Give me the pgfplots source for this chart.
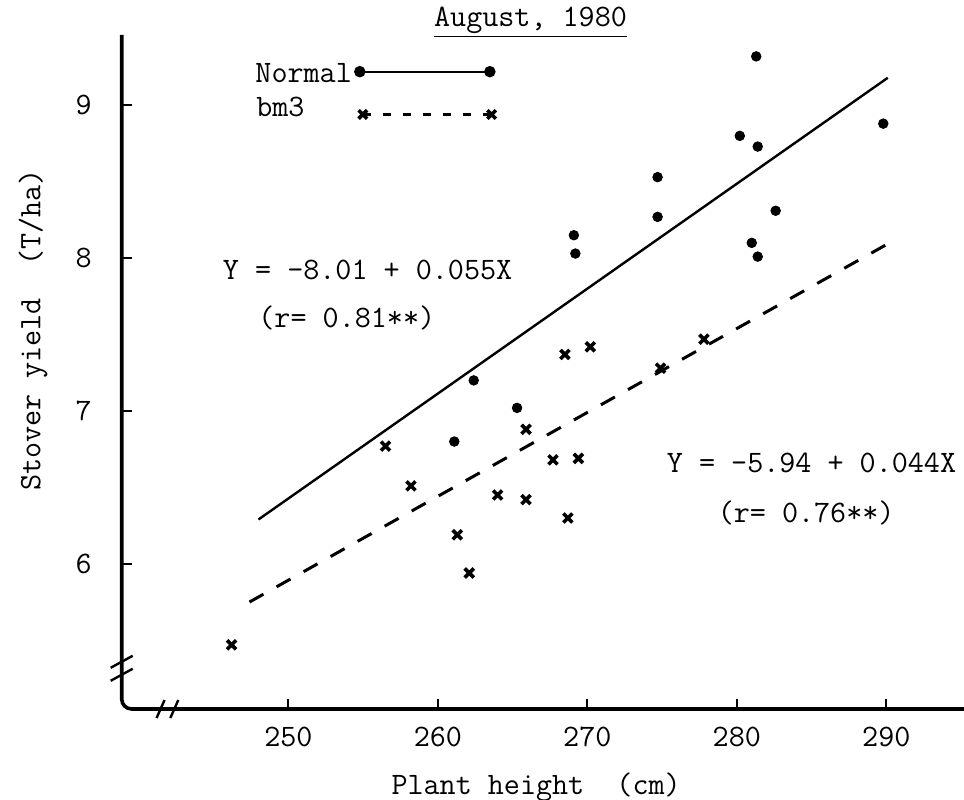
\documentclass[border=0pt]{standalone}
\usepackage{fontspec}
\usepackage{pgfplots}
\pgfplotsset{compat=1.18}
\begin{document}
\ttfamily\fontsize{15.6}{18}\selectfont
\begin{tikzpicture}
\useasboundingbox (0,0) rectangle (482pt,399.5pt);
\begin{axis}[
  at={(60.85pt,45pt)}, anchor=south west,
  scale only axis, width=421.15pt, height=337pt,
  xmin=238.85, xmax=295.2, ymin=5.05, ymax=9.46,
  axis x line*=bottom, axis y line*=left,
  axis line style={draw=none},
  xtick={250,260,270,280,290}, ytick={6,7,8,9},
  tick align=inside, major tick length=5pt,
  tick style={line width=1.1pt, black},
  /pgf/number format/assume math mode=true,
  /pgf/number format/1000 sep={},
  ticklabel style={font=\ttfamily\fontsize{15.6}{18}\selectfont},
  label style={font=\ttfamily\fontsize{15.6}{18}\selectfont},
  xticklabel style={anchor=center, yshift=-14pt},
  yticklabel style={anchor=center, xshift=-19pt},
  xlabel={Plant height\ \ (cm)},
  ylabel={Stover yield\ \ (T/ha)},
  xlabel style={at={(axis description cs:0.492,-0.1157)}, anchor=center},
  ylabel style={at={(axis description cs:-0.1053,0.562)}, anchor=center},
  clip=false,
]
% axis lines with rounded corner
\draw[line width=1.8pt, rounded corners=5pt] (axis cs:238.85,9.46) |- (axis cs:295.2,5.05);
% break marks
\draw[line width=1.2pt] ([shift={(-5.5pt,-3pt)}]axis cs:238.85,5.359) -- ++(11pt,6pt);
\draw[line width=1.2pt] ([shift={(-5.5pt,-3pt)}]axis cs:238.85,5.274) -- ++(11pt,6pt);
\draw[line width=1.2pt] ([shift={(-2pt,-4.5pt)}]axis cs:241.45,5.05) -- ++(4pt,9pt);
\draw[line width=1.2pt] ([shift={(-2pt,-4.5pt)}]axis cs:242.37,5.05) -- ++(4pt,9pt);

% Normal
\addplot[only marks, mark=*, mark size=2.4pt, black] coordinates {
(262.4,7.20) (265.3,7.02) (261.1,6.80)
(281.3,9.32) (289.8,8.88) (280.2,8.80) (281.4,8.73)
(274.7,8.53) (274.7,8.27) (282.6,8.31)
(269.1,8.15) (269.2,8.03) (281.0,8.10) (281.4,8.01)
};
% bm3
\addplot[only marks, mark=x, mark size=3.2pt, mark options={line width=1.8pt}, black] coordinates {
(246.2,5.47) (256.5,6.77) (258.2,6.51) (261.3,6.19) (262.1,5.94)
(264.0,6.45) (265.9,6.88) (265.9,6.42) (267.7,6.68) (268.5,7.37)
(268.7,6.30) (269.4,6.69) (270.2,7.42) (274.9,7.28) (277.8,7.47)
};
% regression lines
\addplot[line width=1.2pt, black] coordinates {(248.0,6.29) (290.1,9.18)};
\addplot[line width=1.5pt, black, dash pattern=on 8pt off 7.5pt] coordinates {(247.4,5.75) (290.4,8.11)};

% legend samples
\addplot[line width=1.1pt, black, mark=*, mark size=2.3pt] coordinates {(254.78,9.22) (263.48,9.22)};
\addplot[line width=1.5pt, black, dash pattern=on 4pt off 6pt, mark=x, mark size=3pt, mark options={solid,line width=1.8pt}] coordinates {(254.98,8.94) (263.6,8.94)};
\node[anchor=west, inner sep=0pt] at (axis cs:247.77,9.21) {Normal};
\node[anchor=west, inner sep=0pt] at (axis cs:247.83,8.99) {bm3};

% title
\node[inner sep=0pt] at (axis cs:266.2,9.545) {\underline{August, 1980}};

% equations
\node[anchor=west, inner sep=0pt] at (axis cs:245.6,7.92) {Y = -8.01 + 0.055X};
\node[anchor=west, inner sep=0pt] at (axis cs:247.97,7.61) {(r= 0.81**)};
\node[anchor=west, inner sep=0pt] at (axis cs:275.3,6.66) {Y = -5.94 + 0.044X};
\node[anchor=west, inner sep=0pt] at (axis cs:278.7,6.33) {(r= 0.76**)};
\end{axis}
\end{tikzpicture}
\end{document}
